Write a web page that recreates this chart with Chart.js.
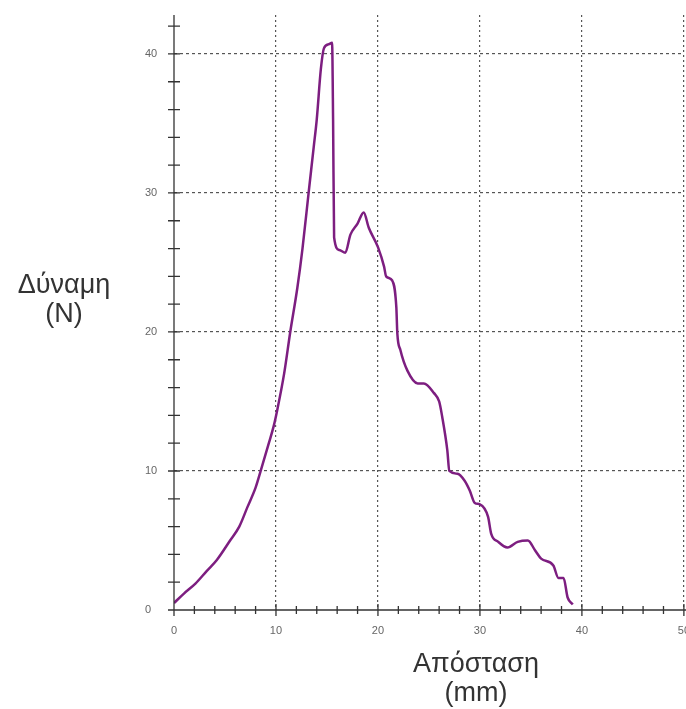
<!DOCTYPE html>
<html>
<head>
<meta charset="utf-8">
<script src="https://cdn.jsdelivr.net/npm/chart.js@4/dist/chart.umd.min.js"></script>
<style>
  html, body { margin: 0; padding: 0; background: #fff; overflow: hidden; }
  #wrap { position: relative; width: 686px; height: 709px; overflow: hidden; }
  #wrap canvas { position: absolute; left: 0; top: 0; }
  .lbl { position: absolute; font-family: "Liberation Sans", Arial, sans-serif; font-size: 27px; color: #333; text-align: center; line-height: 29px; white-space: nowrap; }
</style>
</head>
<body>
<div id="wrap">
  <canvas id="chart" width="704" height="709" style="width:704px;height:709px"></canvas>
  <div class="lbl" style="left:-6px; top:270px; width:140px;">Δύναμη<br>(N)</div>
  <div class="lbl" style="left:396px; top:649px; width:160px;">Απόσταση<br>(mm)</div>
</div>
<script>
// distance (mm) and force (N)
const distance = [0, 1, 2.1, 3.2, 4.2, 5.5, 6.4, 7.2, 8.0, 8.5, 9.3, 9.8, 10.1, 10.8, 11.4, 12.1, 12.6, 13.2, 13.7, 14.0,
  14.4, 14.7, 15.2, 15.5, 15.6, 15.7, 16.2, 16.8, 17.3, 18.0, 18.6, 19.1, 20.0, 20.6, 20.8, 21.4, 21.8, 21.9, 22.2, 22.9,
  23.9, 24.5, 25.5, 26.0, 26.3, 26.8, 27.0, 27.8, 28.5, 29.0, 29.5, 30.0, 30.8, 31.1, 31.8, 32.7, 33.7, 34.7, 35.4, 36.0,
  37.2, 37.7, 38.2, 38.6, 39.1];
const force = [0.5, 1.2, 1.9, 2.8, 3.6, 5.0, 6.0, 7.4, 8.8, 10.0, 12.0, 13.3, 14.3, 17.0, 20.0, 23.2, 26.0, 30.0, 33.3, 35.3,
  38.9, 40.4, 40.7, 40.8, 35.3, 26.8, 25.9, 25.7, 27.0, 27.8, 28.6, 27.5, 26.1, 24.7, 24.0, 23.7, 21.8, 19.9, 18.7, 17.2,
  16.3, 16.3, 15.6, 15.0, 13.9, 11.5, 10.0, 9.8, 9.3, 8.6, 7.7, 7.6, 6.7, 5.5, 4.9, 4.5, 4.9, 5.0, 4.3, 3.7,
  3.2, 2.3, 2.3, 0.9, 0.4];
const xTickLabels = ['0', '10', '20', '30', '40', '50'];
const yTickLabels = ['0', '10', '20', '30', '40'];

const points = distance.map((d, i) => ({ x: d, y: force[i] }));

// axis lines and tick marks that cross the axis
const crossTicks = {
  id: 'crossTicks',
  afterDraw(chart) {
    const { ctx, chartArea, scales } = chart;
    const xs = scales.x, ys = scales.y;
    const x0 = xs.getPixelForValue(0), y0 = ys.getPixelForValue(0);
    ctx.save();
    ctx.strokeStyle = '#333';
    ctx.lineWidth = 1.3;
    ctx.beginPath();
    ctx.moveTo(x0, chartArea.top);
    ctx.lineTo(x0, y0);
    ctx.moveTo(x0 - 6, y0);
    ctx.lineTo(chart.width, y0);
    xs.ticks.forEach(t => {
      const p = xs.getPixelForValue(t.value);
      const len = t.value % 10 === 0 ? 6 : 4;
      ctx.moveTo(p, y0 - len);
      ctx.lineTo(p, y0 + len);
    });
    ys.ticks.forEach(t => {
      const p = ys.getPixelForValue(t.value);
      ctx.moveTo(x0 - 6, p);
      ctx.lineTo(x0 + 6, p);
    });
    ctx.stroke();
    ctx.restore();
  }
};

new Chart(document.getElementById('chart'), {
  type: 'scatter',
  data: {
    datasets: [{
      data: points,
      showLine: true,
      borderColor: '#7d1e80',
      borderWidth: 2.5,
      pointRadius: 0,
      cubicInterpolationMode: 'monotone'
    }]
  },
  options: {
    responsive: false,
    animation: false,
    layout: { padding: { left: 145, top: 15, right: 0, bottom: 70 } },
    plugins: { legend: { display: false }, tooltip: { enabled: false } },
    scales: {
      x: {
        type: 'linear',
        min: 0, max: 50,
        afterFit: s => { s.height = 29; },
        grid: {
          drawTicks: false,
          color: c => (c.tick && c.tick.value % 10 === 0 && c.tick.value !== 0) ? '#555' : 'rgba(0,0,0,0)',
          lineWidth: 1.2
        },
        border: { display: false, dash: [2, 3] },
        ticks: {
          stepSize: 2,
          autoSkip: false,
          maxRotation: 0,
          padding: 14,
          color: '#666',
          font: { family: 'Liberation Sans, Arial, sans-serif', size: 11 },
          callback: v => (v % 10 === 0 ? xTickLabels[v / 10] : '')
        }
      },
      y: {
        type: 'linear',
        min: 0, max: 42.8,
        afterFit: s => { s.width = 29; },
        grid: {
          drawTicks: false,
          color: c => (c.tick && c.tick.value % 10 === 0 && c.tick.value !== 0) ? '#555' : 'rgba(0,0,0,0)',
          lineWidth: 1.2
        },
        border: { display: false, dash: [3, 3] },
        ticks: {
          stepSize: 2,
          includeBounds: false,
          autoSkip: false,
          crossAlign: 'far',
          padding: 0,
          color: '#666',
          font: { family: 'Liberation Sans, Arial, sans-serif', size: 11 },
          callback: v => (v % 10 === 0 ? yTickLabels[v / 10] : '')
        }
      }
    }
  },
  plugins: [crossTicks]
});
</script>
</body>
</html>
